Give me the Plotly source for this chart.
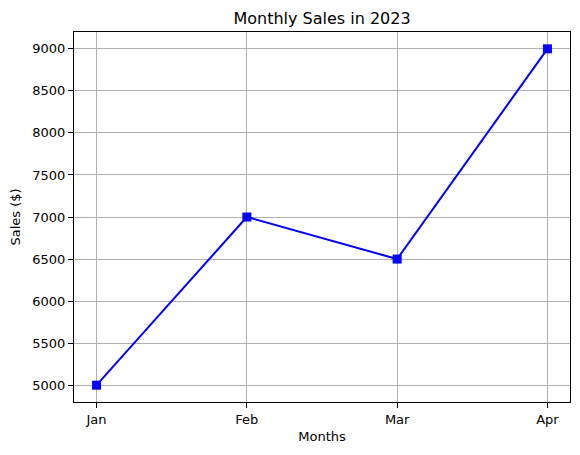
import plotly.graph_objects as go

months = ["Jan", "Feb", "Mar", "Apr"]
sales = [5000, 7000, 6500, 9000]
y_ticks = [5000, 5500, 6000, 6500, 7000, 7500, 8000, 8500, 9000]

fig = go.Figure()
fig.add_trace(go.Scatter(
    x=list(range(len(months))),
    y=sales,
    mode="lines+markers",
    line=dict(color="#0000ff", width=2),
    marker=dict(symbol="square", size=9, color="#0000ff"),
    showlegend=False,
))

axis_common = dict(
    showline=True,
    linecolor="black",
    linewidth=1,
    mirror=True,
    showgrid=True,
    gridcolor="#b0b0b0",
    gridwidth=1,
    ticks="outside",
    ticklen=5,
    tickwidth=1,
    tickcolor="black",
    zeroline=False,
    automargin=False,
    tickfont=dict(size=13, color="black"),
)

fig.update_layout(
    width=580,
    height=455,
    margin=dict(l=74, r=10, t=32, b=53),
    paper_bgcolor="white",
    plot_bgcolor="white",
    font=dict(family="DejaVu Sans", color="black"),
    title=dict(
        text="Monthly Sales in 2023",
        x=(74 + 570) / 2 / 580,
        xanchor="center",
        y=1 - 18 / 455,
        yanchor="middle",
        font=dict(size=16, color="black"),
    ),
    xaxis=dict(
        axis_common,
        tickvals=list(range(len(months))),
        ticktext=months,
        range=[-0.15, 3.15],
        title=dict(text="Months", font=dict(size=13), standoff=6),
    ),
    yaxis=dict(
        axis_common,
        tickvals=y_ticks,
        range=[4800, 9200],
        title=dict(text="Sales ($)", font=dict(size=13), standoff=8),
    ),
)

# the page's default body margin would shift everything by 8px
fig.write_html(
    "out.html",
    config={"displayModeBar": False},
    post_script="document.body.style.margin='0';",
)
